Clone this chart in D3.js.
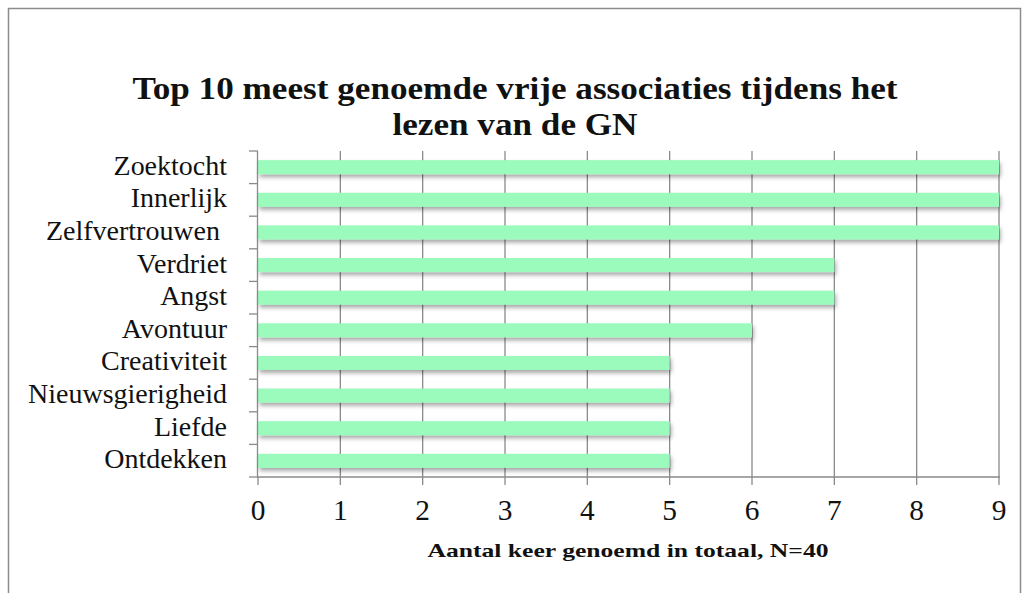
<!DOCTYPE html>
<html><head><meta charset="utf-8">
<script src="https://cdn.jsdelivr.net/npm/d3@7"></script>
<style>body{margin:0;background:#fff}svg{display:block}</style>
</head><body>
<svg id="c" width="1027" height="593"></svg>
<script>
const categories = ["Zoektocht","Innerlijk","Zelfvertrouwen ","Verdriet","Angst","Avontuur","Creativiteit","Nieuwsgierigheid","Liefde","Ontdekken"];
const values = [9,9,9,7,7,6,5,5,5,5];
const xTicks = [0,1,2,3,4,5,6,7,8,9];
const titleLines = ["Top 10 meest genoemde vrije associaties tijdens het","lezen van de GN"];
const xTitle = "Aantal keer genoemd in totaal, N=40";

const svg = d3.select("#c");
const serif = "'Liberation Serif', 'DejaVu Serif', serif";
const defs = svg.append("defs");
const f = defs.append("filter").attr("id","sh").attr("x","-5%").attr("y","-50%").attr("width","115%").attr("height","250%");
f.append("feDropShadow").attr("dx",1.5).attr("dy",3).attr("stdDeviation",2).attr("flood-color","#000").attr("flood-opacity",0.35);

function measure(str, weight, size){
  const t = svg.append("text").attr("font-family",serif).attr("font-weight",weight).attr("font-size",size).text(str);
  const w = t.node().getComputedTextLength(); t.remove();
  return w;
}
const labelSize = 100*199/measure("Nieuwsgierigheid","normal",100);
const titleSize = 31, xTitleSize = 19.5;
const titleW1 = 765;
const titleW2 = titleW1 * measure(titleLines[1],"bold",titleSize) / measure(titleLines[0],"bold",titleSize);

// outer frame
svg.append("path").attr("d","M8.5,600 V8.5 H1020.5 V600").attr("fill","none").attr("stroke","#8c8c8c").attr("stroke-width",1.5);

const x = d3.scaleLinear().domain([0,9]).range([258,999]);
const y = d3.scaleBand().domain(categories).range([151,477]).paddingInner(0.57).paddingOuter(0.28);
const yAxisBand = d3.scaleBand().domain(categories).range([151,477]);

// gridlines
svg.append("g").selectAll("line").data(xTicks.slice(1)).join("line")
  .attr("x1",d=>x(d)).attr("x2",d=>x(d)).attr("y1",151).attr("y2",477)
  .attr("stroke","#8a8a8a").attr("stroke-width",1.3);

// bars
svg.append("g").selectAll("rect").data(values).join("rect")
  .attr("x",x(0)).attr("y",(d,i)=>y(categories[i]))
  .attr("width",d=>x(d)-x(0)).attr("height",y.bandwidth())
  .attr("fill","#9afbbd").attr("filter","url(#sh)");

// y axis
const ya = svg.append("g");
ya.append("line").attr("x1",257.5).attr("x2",257.5).attr("y1",151).attr("y2",477).attr("stroke","#8a8a8a").attr("stroke-width",1.3);
const yTickPos = categories.map(c=>yAxisBand(c)).concat([477]);
ya.selectAll("line.t").data(yTickPos).join("line").attr("class","t")
  .attr("x1",249).attr("x2",258).attr("y1",d=>d).attr("y2",d=>d).attr("stroke","#8a8a8a").attr("stroke-width",1.3);
ya.selectAll("text").data(categories).join("text")
  .attr("x",227).attr("y",c=>yAxisBand(c)+yAxisBand.bandwidth()/2+1)
  .attr("text-anchor","end").attr("dominant-baseline","middle")
  .attr("font-family",serif).attr("font-size",labelSize).attr("fill","#111")
  .style("white-space","pre")
  .text(d=>d);

// x axis
const xa = svg.append("g").attr("transform","translate(0,477)");
xa.append("line").attr("x1",257).attr("x2",1000).attr("stroke","#8a8a8a").attr("stroke-width",1.5);
xa.selectAll("line.t").data(xTicks).join("line").attr("class","t")
  .attr("x1",d=>x(d)).attr("x2",d=>x(d)).attr("y1",0).attr("y2",8).attr("stroke","#8a8a8a").attr("stroke-width",1.3);
xa.selectAll("text").data(xTicks).join("text")
  .attr("x",d=>x(d)).attr("y",43).attr("text-anchor","middle")
  .attr("font-family",serif).attr("font-size",labelSize*1.05).attr("fill","#111").text(d=>d);

svg.append("text").attr("x",628).attr("y",557).attr("text-anchor","middle")
  .attr("font-family",serif).attr("font-weight","bold").attr("font-size",xTitleSize).attr("fill","#111")
  .attr("textLength",401).attr("lengthAdjust","spacingAndGlyphs").text(xTitle);

svg.append("g").selectAll("text").data(titleLines).join("text")
  .attr("x",515).attr("y",(d,i)=>99+i*36).attr("text-anchor","middle")
  .attr("font-family",serif).attr("font-weight","bold").attr("font-size",titleSize).attr("fill","#111")
  .attr("textLength",(d,i)=>i===0?titleW1:titleW2).attr("lengthAdjust","spacingAndGlyphs")
  .text(d=>d);
</script>
</body></html>
